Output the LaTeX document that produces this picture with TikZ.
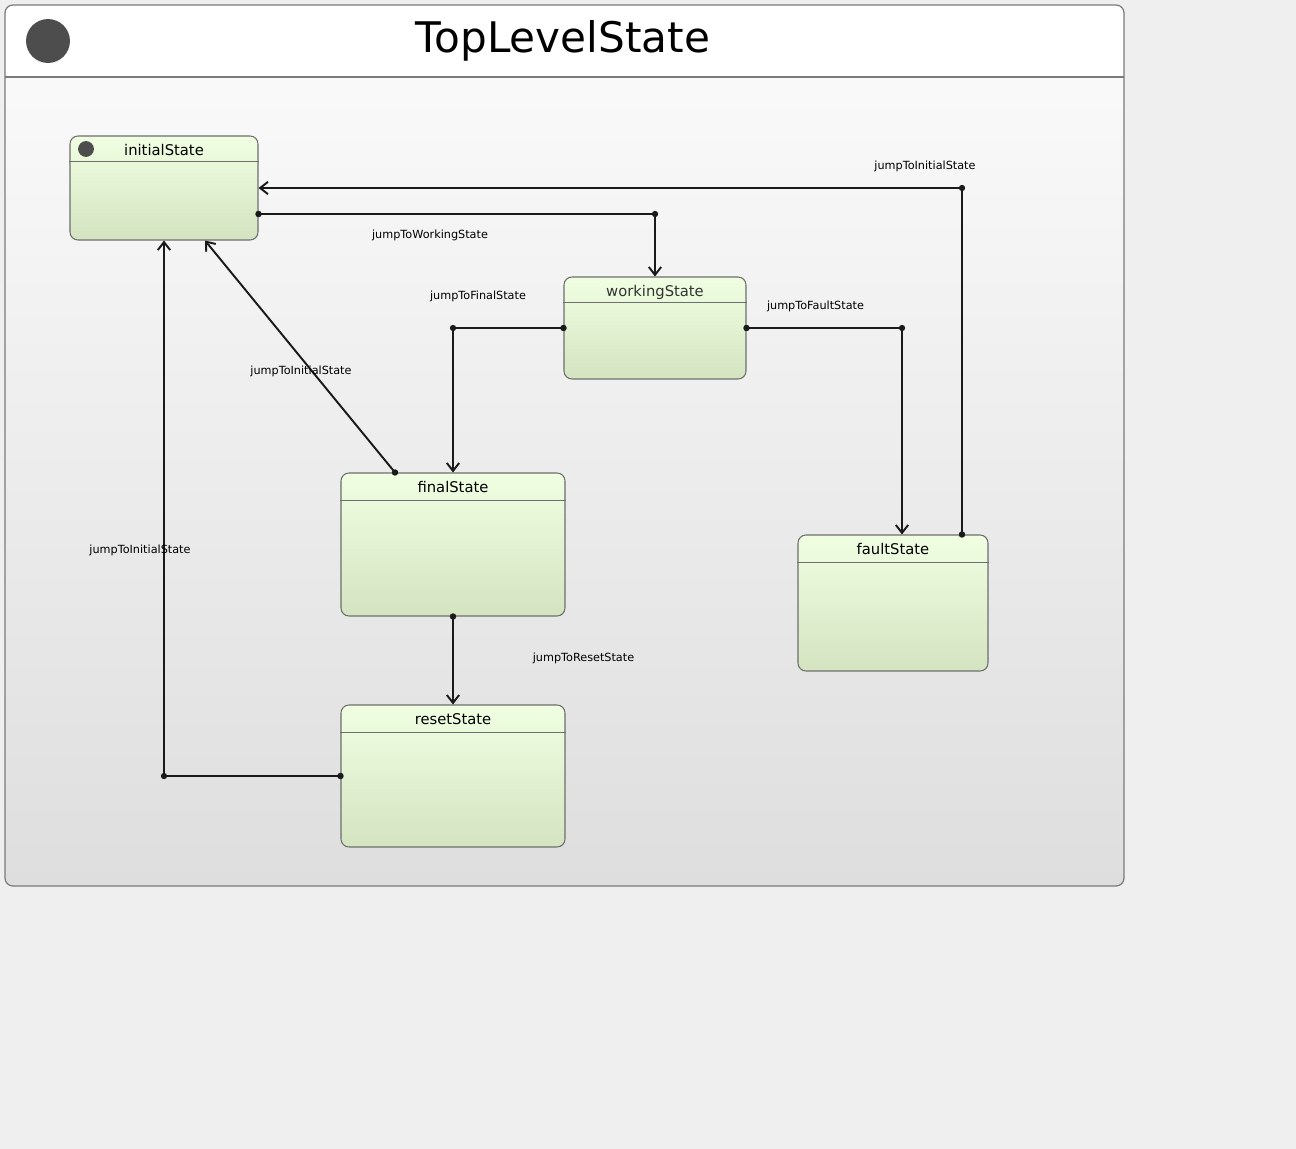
\documentclass[tikz,border=0pt]{standalone}
\usepackage{fontspec}
\setmainfont{DejaVu Sans}
\usetikzlibrary{arrows.meta,calc}
\definecolor{pagebg}{HTML}{EFEFEF}
\definecolor{framebg}{HTML}{FCFCFC}
\definecolor{framebot}{HTML}{DEDEDE}
\definecolor{frameline}{HTML}{7A7A7A}
\definecolor{statetop}{HTML}{F0FFE2}
\definecolor{statebot}{HTML}{D4E4C1}
\definecolor{stateline}{HTML}{6E6E6E}
\definecolor{wire}{HTML}{1A1A1A}
\definecolor{pseudo}{HTML}{4D4D4D}
\begin{document}
\begin{tikzpicture}[x=0.02cm,y=-0.02cm,
  state/.style={draw=stateline,line width=0.6pt,rounded corners=4.5pt,top color=statetop,bottom color=statebot,inner sep=0pt},
  statename/.style={font=\fontsize{8.4}{10}\selectfont,anchor=north,inner sep=0pt,yshift=-5pt},
  sepline/.style={draw=stateline,line width=0.6pt},
  trans/.style={draw=wire,line width=1.1pt,{Circle[length=3.6pt,sep=-1.8pt]}-{Straight Barb[length=4.5pt,width=7pt]}},
  guard/.style={font=\fontsize{6.4}{8}\selectfont,inner sep=0pt}]
\useasboundingbox (0,0) rectangle (1296,1149);
\fill[pagebg] (0,0) rectangle (1296,1149);
\shade[top color=framebg,bottom color=framebot,rounded corners=4.5pt] (5,5) rectangle (1124,886);
\fill[white] (5,77) {[rounded corners=4.5pt] -- (5,5) -- (1124,5)} -- (1124,77) -- cycle;
\draw[frameline,line width=0.7pt,rounded corners=4.5pt] (5,5) rectangle (1124,886);
\draw[frameline,line width=0.7pt] (5,77) -- (1124,77);
\fill[pseudo] (48,41) circle (12.5pt);
\node[font=\fontsize{24}{28}\selectfont,anchor=base,inner sep=0pt] (title) at (563,53) {TopLevelState};
\node[state,minimum width=3.76cm,minimum height=2.08cm,label={[statename]north:initialState}] (init) at (164,188) {};
\node[state,minimum width=3.64cm,minimum height=2.04cm,label={[statename,text=black!80]north:workingState}] (work) at (655,328) {};
\node[state,minimum width=4.48cm,minimum height=2.86cm,label={[statename]north:finalState}] (final) at (453,544.5) {};
\node[state,minimum width=3.8cm,minimum height=2.72cm,label={[statename]north:faultState}] (fault) at (893,603) {};
\node[state,minimum width=4.48cm,minimum height=2.84cm,label={[statename]north:resetState}] (reset) at (453,776) {};
\foreach \s/\h in {init/26,work/26,final/28,fault/28,reset/28}
  \draw[sepline] ($(\s.north west)+(0,\h)$) -- ($(\s.north east)+(0,\h)$);
\fill[pseudo] (86,149) circle (4.5pt);
\coordinate (j1) at (655,214);
\coordinate (j2) at (962,188);
\coordinate (j3) at (453,328);
\coordinate (j4) at (902,328);
\coordinate (j7) at (164,776);
\foreach \j in {j1,j2,j3,j4,j7}
  \fill[wire] (\j) circle (1.8pt);
\draw[trans] ($(init.east)+(0,26)$) -- (j1) -- (work.north);
\draw[trans] ($(fault.north)+(69,0)$) -- (j2) -- (init.east);
\draw[trans] (work.west) -- (j3) -- (final.north);
\draw[trans] (work.east) -- (j4) -- ($(fault.north)+(9,0)$);
\draw[trans] ($(final.north)+(-58,0)$) -- ($(init.south)+(41,0)$);
\draw[trans] (final.south) -- (reset.north);
\draw[trans] (reset.west) -- (j7) -- (init.south);
\node[guard] (g1) at (430,235) {jumpToWorkingState};
\node[guard] (g2) at (925,166) {jumpToInitialState};
\node[guard] (g3) at (478,296) {jumpToFinalState};
\node[guard] (g4) at (815.5,306) {jumpToFaultState};
\node[guard] (g5) at (301,371) {jumpToInitialState};
\node[guard] (g6) at (583.5,658) {jumpToResetState};
\node[guard] (g7) at (140,550) {jumpToInitialState};
\end{tikzpicture}
\end{document}
